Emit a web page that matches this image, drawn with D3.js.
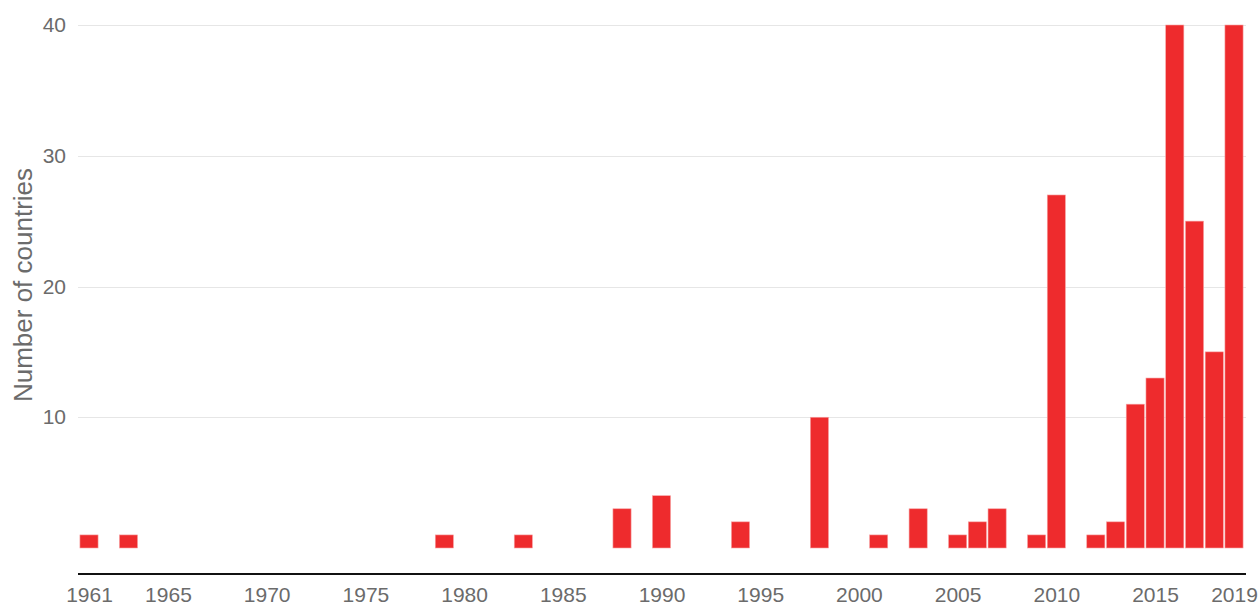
<!DOCTYPE html>
<html>
<head>
<meta charset="utf-8">
<script src="https://cdn.jsdelivr.net/npm/d3@7"></script>
<style>
  body { margin: 0; background: #fff; }
  svg { display: block; font-family: 'Liberation Sans', Arial, sans-serif; }
  .tick text { fill: #6b6b6b; }
</style>
</head>
<body>
<svg width="1258" height="606"></svg>
<script>
// year -> number of countries
const years = [1961, 1963, 1979, 1983, 1988, 1990, 1994, 1998, 2001, 2003, 2005, 2006,
  2007, 2009, 2010, 2012, 2013, 2014, 2015, 2016, 2017, 2018, 2019]
const counts = [1, 1, 1, 1, 3, 4, 2, 10, 1, 3, 1, 2,
  3, 1, 27, 1, 2, 11, 13, 40, 25, 15, 40]
const xTicks = [1961, 1965, 1970, 1975, 1980, 1985, 1990, 1995, 2000, 2005, 2010, 2015, 2019]
const yTicks = [10, 20, 30, 40]

const svg = d3.select('svg')
const plotLeft = 78
const plotRight = 1246
const plotTop = 25
const base = 548
const axisY = 574

const x = d3.scaleLinear().domain([1961, 2019]).range([89, 1234])
const y = d3.scaleLinear().domain([0, 40]).range([base, plotTop])
const barW = x(1962) - x(1961) - 1.6

// grid
svg.append('g')
  .selectAll('line')
  .data(yTicks)
  .join('line')
  .attr('x1', plotLeft)
  .attr('x2', plotRight)
  .attr('y1', (d) => Math.round(y(d)) + 0.5)
  .attr('y2', (d) => Math.round(y(d)) + 0.5)
  .attr('stroke', '#e6e6e6')
  .attr('stroke-width', 1)

// y labels
const yAxis = d3.axisLeft(y).tickValues(yTicks).tickSize(0).tickPadding(0)
svg.append('g')
  .attr('transform', 'translate(66,0)')
  .call(yAxis)
  .call((g) => g.select('.domain').remove())
  .selectAll('text')
  .attr('font-size', 21)
  .attr('font-family', 'Liberation Sans, Arial, sans-serif')

svg.append('text')
  .attr('transform', 'translate(32,285) rotate(-90)')
  .attr('text-anchor', 'middle')
  .attr('font-size', 26)
  .attr('fill', '#6b6b6b')
  .text('Number of countries')

// bars
svg.append('g')
  .selectAll('rect')
  .data(years)
  .join('rect')
  .attr('x', (d) => x(d) - barW / 2)
  .attr('width', barW)
  .attr('y', (d, i) => y(counts[i]))
  .attr('height', (d, i) => base - y(counts[i]))
  .attr('fill', '#ee2b2d')
  .attr('stroke', '#f7a3a4')
  .attr('stroke-width', 0.6)

// x axis
svg.append('line')
  .attr('x1', plotLeft)
  .attr('x2', plotRight)
  .attr('y1', axisY)
  .attr('y2', axisY)
  .attr('stroke', '#111')
  .attr('stroke-width', 2)

const xAxis = d3.axisBottom(x).tickValues(xTicks).tickFormat(d3.format('d'))
  .tickSize(0).tickPadding(0)
svg.append('g')
  .attr('transform', `translate(0,${axisY + 13})`)
  .call(xAxis)
  .call((g) => g.select('.domain').remove())
  .selectAll('text')
  .attr('font-size', 21)
  .attr('font-family', 'Liberation Sans, Arial, sans-serif')
</script>
</body>
</html>
